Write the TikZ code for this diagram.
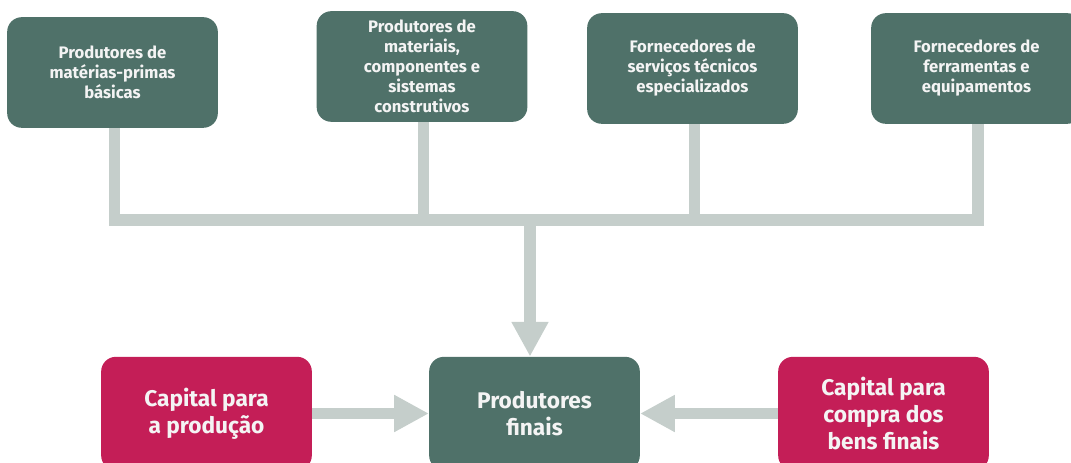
\documentclass[tikz,border=0pt]{standalone}
\usepackage{fontspec}
\setmainfont{Fira Sans}
\usepackage{tikz}
\usetikzlibrary{arrows.meta, positioning}
\definecolor{forest}{HTML}{4F7169}
\definecolor{berry}{HTML}{C41E57}
\definecolor{rulecolor}{HTML}{C5CECB}
\definecolor{paper}{HTML}{F4F4F4}
\tikzset{
  box/.style   ={draw=none, rounded corners=11pt, text=paper, align=center,
                 minimum width=158pt, minimum height=83pt, inner sep=4pt,
                 font=\fontsize{12.5}{15}\selectfont\bfseries},
  boxg/.style  ={box, fill=forest},
  boxgl/.style ={boxg, minimum height=85pt, font=\fontsize{17}{20}\selectfont\bfseries},
  boxm/.style  ={boxgl, fill=berry},
  pipe/.style  ={draw=rulecolor, line width=8.5pt, line join=miter},
  flow/.style  ={pipe, -{Triangle[length=26pt,width=26pt]}}
}
\begin{document}
\begin{tikzpicture}[x=0.75pt, y=-0.75pt]
  \useasboundingbox (0,0) rectangle (1071,463);
  \clip (0,0) rectangle (1071,463);
  % suppliers
  \node[boxg] (b1) at (112.5,72.5) {Produtores de\\matérias-primas\\básicas};
  \node[boxg] (b2) at (422,66.5) {Produtores de\\materiais,\\componentes e\\sistemas\\construtivos};
  \node[boxg] (b3) at (692.5,68.5) {Fornecedores de\\serviços técnicos\\especializados};
  \node[boxg] (b4) at (976.5,68.5) {Fornecedores de\\ferramentas e\\equipamentos};
  % final level
  \node[boxgl] (fin) at (534.5,413.5) {Produtores\\finais};
  \node[boxm] (cp) at (206.5,413.5) {Capital para\\a produção};
  \node[boxm] (cc) at (883.5,413.5) {Capital para\\compra dos\\bens finais};
  % connectors
  \coordinate (hub) at (530,220);
  \draw[pipe] ([xshift=1.5pt]b1.south) |- (hub) -| ([xshift=1.2pt]b4.south);
  \draw[pipe] ([xshift=1pt]b2.south) -- ([xshift=1pt]b2.south |- hub);
  \draw[pipe] ([xshift=1.5pt]b3.south) -- ([xshift=1.5pt]b3.south |- hub);
  \draw[flow] (hub) -- (hub |- fin.north);
  \draw[flow] (cp.east) -- (fin.west);
  \draw[flow] (cc.west) -- (fin.east);
\end{tikzpicture}
\end{document}
